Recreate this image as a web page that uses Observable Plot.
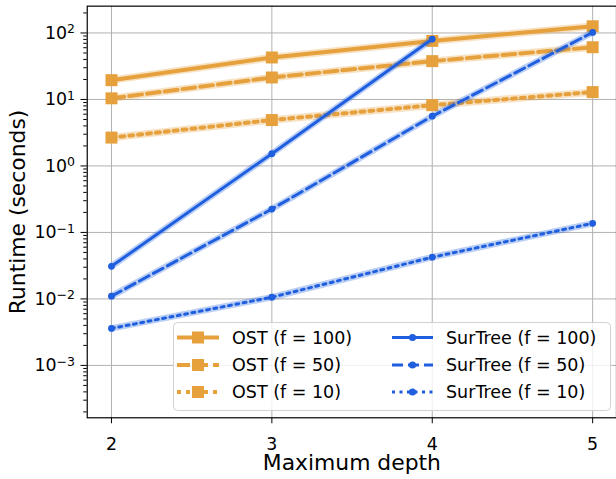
<!DOCTYPE html>
<html>
<head>
<meta charset="utf-8">
<script src="https://cdn.jsdelivr.net/npm/d3@7"></script>
<script src="https://cdn.jsdelivr.net/npm/@observablehq/plot@0.6"></script>
<style>
  html, body { margin: 0; padding: 0; background: #fff; }
  #wrap { position: relative; width: 616px; height: 479px; overflow: hidden; font-family: "DejaVu Sans", sans-serif; }
  #wrap svg.legend { position: absolute; left: 0; top: 0; pointer-events: none; }
</style>
</head>
<body>
<div id="wrap"></div>
<script>
// ---- data ----
const depths = [2, 3, 4, 5];
const ost100 = [19.5, 42.8, 75.9, 126];
const ost50  = [10.4, 21.4, 37.7, 61];
const ost10  = [2.67, 4.9, 8.2, 12.9];
const sur100 = [0.031, 1.53, 81];          // no run at depth 5
const sur50  = [0.011, 0.225, 5.6, 102];
const sur10  = [0.0036, 0.0106, 0.0424, 0.137];
const seriesNames = ["OST (f = 100)", "OST (f = 50)", "OST (f = 10)",
                     "SurTree (f = 100)", "SurTree (f = 50)", "SurTree (f = 10)"];
const yMajorTicks = [1e-3, 1e-2, 1e-1, 1e0, 1e1, 1e2];
const xLabel = "Maximum depth";
const yLabel = "Runtime (seconds)";

// ---- styles ----
const ORANGE = "#e6a03c";
const BLUE = "#1f5fdf";
const styles = [
  {color: ORANGE, width: 4, dash: null,  symbol: "square", r: 6.8},
  {color: ORANGE, width: 4, dash: "13,5", symbol: "square", r: 6.8},
  {color: ORANGE, width: 4, dash: "4,5",  symbol: "square", r: 6.8},
  {color: BLUE,   width: 3, dash: null,  symbol: "circle", r: 3.4},
  {color: BLUE,   width: 3, dash: "11,5", symbol: "circle", r: 3.4},
  {color: BLUE,   width: 3, dash: "3,4.5",  symbol: "circle", r: 3.4}
];
const seriesValues = [ost100, ost50, ost10, sur100, sur50, sur10];
const tables = seriesValues.map((vals, i) =>
  vals.map((v, j) => ({depth: depths[j], value: v, series: seriesNames[i]})));

const minorTicks = [];
for (let e = -4; e <= 2; e++) for (let m = 2; m <= 9; m++) {
  const v = m * Math.pow(10, e);
  if (v > 1.63e-4 && v < 253) minorTicks.push(v);
}
const fmtPow = d => "10^" + String(Math.round(Math.log10(d))).replace("-", "\u2212");

const marks = [
  Plot.gridX(depths, {stroke: "#b0b0b0", strokeOpacity: 1, strokeWidth: 1}),
  Plot.gridY(yMajorTicks, {stroke: "#b0b0b0", strokeOpacity: 1, strokeWidth: 1}),
];
tables.forEach((t, i) => {
  const s = styles[i];
  marks.push(Plot.line(t, {x: "depth", y: "value", stroke: s.color, strokeWidth: s.width + 3.5, strokeOpacity: 0.3}));
  marks.push(Plot.line(t, {x: "depth", y: "value", stroke: s.color, strokeWidth: s.width, strokeDasharray: s.dash || undefined}));
  marks.push(Plot.dot(t, {x: "depth", y: "value", symbol: s.symbol, r: s.r, fill: s.color, stroke: null}));
});
marks.push(
  Plot.frame({stroke: "#000", strokeWidth: 1.2}),
  Plot.axisX(depths, {tickSize: 6, tickPadding: 14, fontSize: 17.5, label: null, tickFormat: d => String(d)}),
  Plot.axisY(yMajorTicks, {tickSize: 6.3, tickPadding: 6, fontSize: 17.5, label: null, tickFormat: fmtPow}),
  Plot.axisY(minorTicks, {tickSize: 3.5, label: null, tickFormat: () => ""}),
  Plot.text([xLabel], {frameAnchor: "bottom", lineAnchor: "middle", textAnchor: "middle", dy: 46, fontSize: 22, fill: "#000"}),
  Plot.text([yLabel], {frameAnchor: "left", lineAnchor: "middle", textAnchor: "middle", dx: -70, rotate: -90, fontSize: 22, fill: "#000"})
);

const chart = Plot.plot({
  width: 620,
  height: 479,
  marginLeft: 87.3,
  marginTop: 5.7,
  marginBottom: 59,
  marginRight: 0,
  style: {fontFamily: "DejaVu Sans", fontSize: "17.5px", color: "#000", background: "#fff", overflow: "visible"},
  x: {domain: [1.8489, 5.1487]},
  y: {type: "log", domain: [1.631e-4, 253]},
  marks
});
const wrap = document.getElementById("wrap");
wrap.appendChild(chart);

// superscript exponents on y tick labels (10^k)
d3.select(chart).selectAll("text").each(function() {
  const t = this.textContent;
  if (/^10\^/.test(t)) {
    const exp = t.slice(3);
    const sel = d3.select(this);
    sel.text("");
    sel.append("tspan").text("10");
    sel.append("tspan").attr("font-size", "0.72em").attr("dy", "-0.42em").text(exp);
  }
});

// ---- legend (overlay) ----
const lg = d3.select(wrap).append("svg").attr("class", "legend")
  .attr("width", 616).attr("height", 479);
lg.append("rect").attr("x", 173.5).attr("y", 322.5).attr("width", 437).attr("height", 88)
  .attr("rx", 4).attr("fill", "#fff").attr("fill-opacity", 0.8)
  .attr("stroke", "#d2d2d2").attr("stroke-width", 1);
const rowsY = [337.5, 365, 392];
seriesNames.forEach((name, i) => {
  const s = styles[i];
  const col = i < 3 ? 0 : 1;
  const y = rowsY[i % 3];
  const x0 = col === 0 ? 177 : 392, x1 = col === 0 ? 219 : 433, tx = col === 0 ? 232 : 446;
  const g = lg.append("g");
  g.append("line").attr("x1", x0).attr("x2", x1).attr("y1", y).attr("y2", y)
    .attr("stroke", s.color).attr("stroke-width", s.width)
    .attr("stroke-dasharray", s.dash);
  const mx = (x0 + x1) / 2;
  if (s.symbol === "square") {
    g.append("rect").attr("x", mx - 6).attr("y", y - 6).attr("width", 12).attr("height", 12).attr("fill", s.color);
  } else {
    g.append("circle").attr("cx", mx).attr("cy", y).attr("r", 3.6).attr("fill", s.color);
  }
  g.append("text").attr("x", tx).attr("y", y).attr("dy", "0.36em")
    .attr("font-family", "DejaVu Sans").attr("font-size", 17.5).attr("fill", "#000").text(name);
});
</script>
</body>
</html>
